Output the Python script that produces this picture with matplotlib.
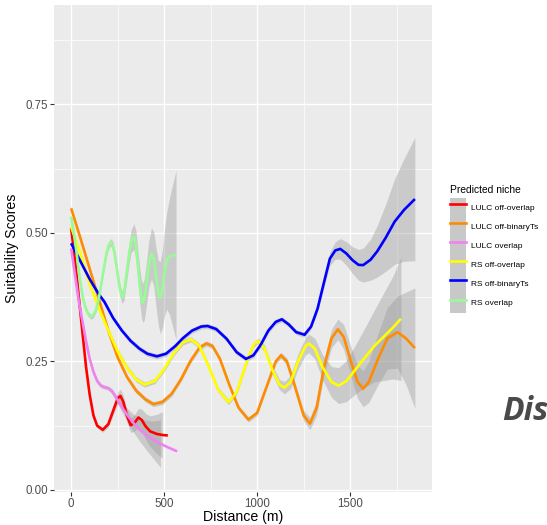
import matplotlib
matplotlib.use("Agg")
import matplotlib.pyplot as plt
import numpy as np
from matplotlib.lines import Line2D
from matplotlib.patches import Patch
from matplotlib.ticker import MultipleLocator

nan = np.nan

# LULC off-overlap
red_x = [0, 20, 40, 60, 80, 100, 120, 140, 170, 200, 230, 250, 265, 280, 300, 320, 340, 362, 380, 400, 425, 460, 490, 520]
red_y = [0.510, 0.45, 0.38, 0.31, 0.24, 0.185, 0.145, 0.125, 0.117, 0.128, 0.158, 0.178, 0.183, 0.172, 0.145, 0.126,
         0.130, 0.141, 0.136, 0.124, 0.114, 0.109, 0.107, 0.106]
red_se = [0.004, 0.004, 0.004, 0.004, 0.004, 0.004, 0.004, 0.004, 0.005, 0.006, 0.009, 0.012, 0.013, 0.013, 0.013,
          0.014, 0.016, 0.018, 0.021, 0.025, 0.03, 0.038, 0.045, nan]

# LULC off-binaryTs
orange_x = [0, 50, 100, 150, 200, 250, 300, 350, 400, 442, 490, 540, 590, 640, 690, 727, 760, 800, 850, 900,
            953, 1000, 1050, 1100, 1128, 1160, 1200, 1250, 1284, 1320, 1360, 1400, 1434, 1465, 1500, 1540, 1570,
            1600, 1650, 1700, 1754, 1800, 1848]
orange_y = [0.548, 0.49, 0.43, 0.37, 0.31, 0.258, 0.22, 0.193, 0.176, 0.167, 0.171, 0.187, 0.215, 0.25, 0.277,
            0.285, 0.28, 0.255, 0.205, 0.16, 0.137, 0.15, 0.2, 0.25, 0.262, 0.25, 0.205, 0.145, 0.129, 0.16, 0.24,
            0.295, 0.3125, 0.298, 0.255, 0.21, 0.197, 0.21, 0.255, 0.295, 0.307, 0.295, 0.276]
orange_se = [0.005] * 24 + [0.006, 0.007, 0.008, 0.01, 0.012, 0.014, 0.016, 0.018, 0.02, 0.024, 0.028, 0.032,
                            0.035, 0.04, 0.05, 0.06, 0.07, 0.09, 0.117]

# LULC overlap
pink_x = [0, 20, 40, 60, 80, 100, 120, 140, 160, 180, 200, 220, 250, 280, 310, 340, 370, 400, 440, 480, 520, 570]
pink_y = [0.470, 0.42, 0.37, 0.33, 0.29, 0.255, 0.23, 0.212, 0.203, 0.200, 0.198, 0.192, 0.175, 0.157, 0.142,
          0.128, 0.117, 0.108, 0.098, 0.090, 0.083, 0.075]
pink_se = [0.004] * 11 + [0.005, 0.007, 0.01, 0.014, 0.018, 0.023, 0.028, 0.036, 0.046, nan, nan]

# RS off-overlap
yellow_x = [0, 50, 100, 150, 200, 250, 300, 350, 395, 450, 500, 550, 600, 645, 690, 740, 790, 846, 890, 940,
            980, 1006, 1040, 1080, 1120, 1147, 1180, 1220, 1260, 1278, 1310, 1350, 1400, 1438, 1480, 1530, 1580,
            1630, 1680, 1730, 1773]
yellow_y = [0.512, 0.46, 0.40, 0.353, 0.31, 0.27, 0.238, 0.215, 0.205, 0.212, 0.235, 0.265, 0.287, 0.293, 0.28,
            0.24, 0.195, 0.171, 0.19, 0.245, 0.283, 0.290, 0.275, 0.235, 0.205, 0.199, 0.21, 0.25, 0.28, 0.285,
            0.275, 0.24, 0.21, 0.203, 0.212, 0.235, 0.258, 0.28, 0.298, 0.316, 0.333]
yellow_se = [0.005] * 21 + [0.006, 0.007, 0.008, 0.01, 0.012, 0.013, 0.015, 0.017, 0.018, 0.02, 0.024, 0.03,
                            0.035, 0.04, 0.048, 0.058, 0.07, 0.085, 0.1, 0.12]

# RS off-binaryTs
blue_x = [0, 50, 100, 150, 179, 225, 273, 320, 367, 410, 461, 510, 560, 600, 650, 700, 733, 780, 836, 890,
          940, 980, 1020, 1060, 1100, 1133, 1170, 1210, 1255, 1290, 1325, 1360, 1391, 1420, 1447, 1480, 1513,
          1545, 1570, 1610, 1645, 1690, 1739, 1790, 1848]
blue_y = [0.48, 0.445, 0.41, 0.38, 0.366, 0.335, 0.31, 0.29, 0.275, 0.265, 0.26, 0.265, 0.28, 0.295, 0.31,
          0.318, 0.319, 0.313, 0.294, 0.268, 0.255, 0.262, 0.283, 0.31, 0.327, 0.332, 0.322, 0.307, 0.302, 0.318,
          0.353, 0.405, 0.45, 0.466, 0.469, 0.46, 0.447, 0.438, 0.4375, 0.448, 0.464, 0.49, 0.522, 0.545, 0.566]
blue_se = [0.005] * 30 + [0.007, 0.01, 0.013, 0.017, 0.02, 0.023, 0.026, 0.03, 0.033, 0.04, 0.05, 0.065,
                          0.083, 0.1, 0.12]

# RS overlap
green_x = [0, 15, 30, 45, 60, 75, 90, 107, 120, 135, 150, 170, 190, 200, 212, 224, 236, 250, 262, 273,
           284, 296, 310, 322, 337, 348, 358, 370, 378, 385, 393, 404, 418, 432, 444, 456, 468, 479, 490, 503,
           515, 530, 564]
green_y = [0.532, 0.50, 0.46, 0.415, 0.38, 0.357, 0.343, 0.337, 0.34, 0.352, 0.375, 0.418, 0.46, 0.474, 0.482,
           0.476, 0.455, 0.42, 0.39, 0.375, 0.382, 0.415, 0.455, 0.483, 0.493, 0.478, 0.44, 0.395, 0.372, 0.364,
           0.37, 0.398, 0.44, 0.46, 0.45, 0.415, 0.385, 0.374, 0.39, 0.425, 0.447, 0.455, 0.457]
green_se = [0.005] * 12 + [0.006, 0.007, 0.007, 0.008, 0.009, 0.01, 0.011, 0.012, 0.014, 0.017, 0.02, 0.022,
                           0.025, 0.028, 0.03, 0.034, 0.036, 0.038, 0.04, 0.042, 0.045, 0.05, 0.053, 0.057,
                           0.063, 0.07, 0.076, 0.085, 0.095, 0.115, 0.165]

labels = ["LULC off-overlap", "LULC off-binaryTs", "LULC overlap",
          "RS off-overlap", "RS off-binaryTs", "RS overlap"]
colors = ["#FF0000", "#FF8C00", "#EE82EE", "#FFFF00", "#0000FF", "#98FB98"]
series = [(red_x, red_y, red_se), (orange_x, orange_y, orange_se), (pink_x, pink_y, pink_se),
          (yellow_x, yellow_y, yellow_se), (blue_x, blue_y, blue_se), (green_x, green_y, green_se)]

plt.rcParams['font.family'] = ['Liberation Sans', 'DejaVu Sans']

fig = plt.figure(figsize=(5.47, 5.25), dpi=100)
ax = fig.add_axes([54 / 547, 33 / 525, 378 / 547, 487 / 525])
ax.set_facecolor("#EBEBEB")
for s in ax.spines.values():
    s.set_visible(False)

# bands first, then lines (geom_smooth look)
for (x, y, se), c in zip(series, colors):
    x = np.array(x, float)
    y = np.array(y, float)
    se = np.array(se, float)
    ax.fill_between(x, y - se, y + se, color="#999999", alpha=0.4, linewidth=0, zorder=2)
for (x, y, se), c in zip(series, colors):
    ax.plot(x, y, color=c, lw=1.9, solid_capstyle="butt", solid_joinstyle="round", zorder=3)

ax.set_xlim(-92, 1940)
ax.set_ylim(-0.004, 0.9436)
ax.set_xticks([0, 500, 1000, 1500])
ax.set_yticks([0.0, 0.25, 0.5, 0.75])
ax.set_yticklabels(["0.00", "0.25", "0.50", "0.75"])
ax.xaxis.set_minor_locator(MultipleLocator(250))
ax.yaxis.set_minor_locator(MultipleLocator(0.125))
ax.grid(True, which="major", color="white", lw=1.0, zorder=0)
ax.grid(True, which="minor", color="white", lw=0.5, zorder=0)
ax.set_axisbelow(True)
ax.tick_params(which="major", length=2.9, width=0.8, color="#333333", labelcolor="#4D4D4D",
               labelsize=8.3, pad=1.5)
ax.tick_params(which="minor", length=0)

fig.text(243 / 547, 4 / 525, "Distance (m)", ha="center", va="baseline", fontsize=10.2, color="black")
fig.text(12 / 547, 277 / 525, "Suitability Scores", ha="center", va="center", rotation=90,
         fontsize=10.2, color="black")

# legend: title as its own text, keys with the grey band behind the line
fig.text(450 / 547, 1 - 193 / 525, "Predicted niche", ha="left", va="baseline", fontsize=7.4)
handles = [(Patch(facecolor="#C8C8C8", edgecolor="none"), Line2D([], [], color=c, lw=1.9)) for c in colors]
leg = fig.legend(handles, labels, loc="upper left", bbox_to_anchor=(450 / 547, 1 - 198 / 525),
                 frameon=False, fontsize=6, handlelength=1.9, handleheight=3.15, labelspacing=0,
                 handletextpad=0.6, borderpad=0, borderaxespad=0)

fig.text(502 / 547, 105 / 525, "Dis", fontsize=23, fontweight="bold", style="italic",
         family="Open Sans", color="#4A4A4A", ha="left", va="baseline")

fig.savefig("out.png", dpi=100)
